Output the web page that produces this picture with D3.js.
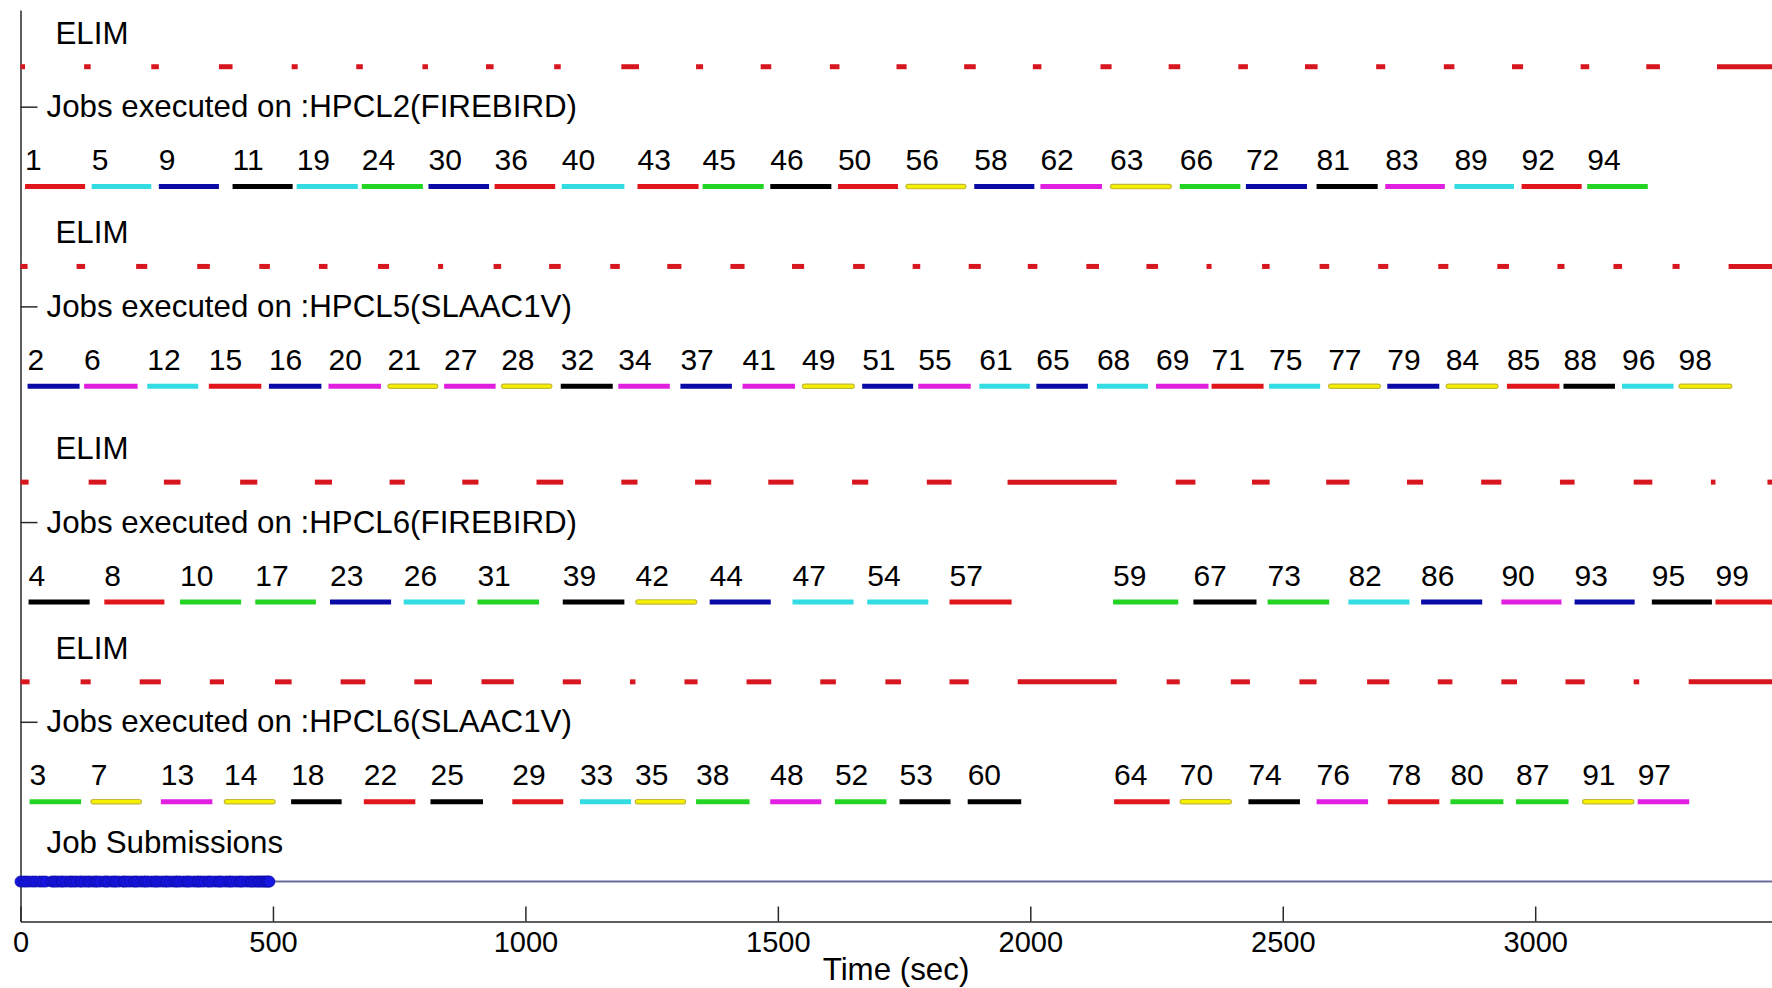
<!DOCTYPE html>
<html>
<head>
<meta charset="utf-8">
<script src="https://cdn.jsdelivr.net/npm/d3@7"></script>
<style>
    body { margin: 0; background: #fff; }
    #chart-area { width: 1772px; height: 988px; }
    text { font-family: "Liberation Sans", Arial, sans-serif; fill: #000; }
    .axis path, .axis line { stroke: #2a2a2a; stroke-width: 1.5px; }
    .x-axis text { font-size: 29px; }
    .y-axis text { font-size: 31.3px; }
    .caption { font-size: 31.3px; }
    .job-label { font-size: 30px; }
</style>
</head>
<body>
<div id="chart-area"></div>
<script>

// machines, top to bottom
var machineNames = ["HPCL2(FIREBIRD)", "HPCL5(SLAAC1V)", "HPCL6(FIREBIRD)", "HPCL6(SLAAC1V)"];

// y value of each track (as plotted in the original figure)
var elimLevels = [10.2, 7.7, 5.0, 2.5];
var jobLevels = [8.7, 6.2, 3.5, 1.0];
var submissionLevel = 0;

var xTicks = [0, 500, 1000, 1500, 2000, 2500, 3000];

// jobs: id, colour code (matlab style), start, end (sec)
var jobsHPCL2 = [
    [1, "r", 9, 128], [5, "c", 141, 259], [9, "b", 274, 393], [11, "k", 420, 539],
    [19, "c", 547, 668], [24, "g", 676, 797], [30, "b", 808, 928], [36, "r", 939, 1059],
    [40, "c", 1072, 1196], [43, "r", 1222, 1343], [45, "g", 1351, 1472], [46, "k", 1485, 1606],
    [50, "r", 1619, 1738], [56, "y", 1753, 1873], [58, "b", 1889, 2008], [62, "m", 2020, 2142],
    [63, "y", 2158, 2280], [66, "g", 2296, 2416], [72, "b", 2427, 2548], [81, "k", 2567, 2688],
    [83, "m", 2703, 2821], [89, "c", 2840, 2958], [92, "r", 2973, 3092], [94, "g", 3103, 3223]
];
var jobsHPCL5 = [
    [2, "b", 14, 117], [6, "m", 126, 232], [12, "c", 251, 352], [15, "r", 373, 477],
    [16, "b", 492, 596], [20, "m", 610, 714], [21, "y", 727, 827], [27, "m", 839, 941],
    [28, "y", 952, 1053], [32, "k", 1070, 1173], [34, "m", 1184, 1286], [37, "b", 1307, 1409],
    [41, "m", 1430, 1534], [49, "y", 1548, 1652], [51, "b", 1667, 1768], [55, "m", 1778, 1882],
    [61, "c", 1899, 1999], [65, "b", 2012, 2114], [68, "c", 2132, 2233], [69, "m", 2249, 2353],
    [71, "r", 2359, 2462], [75, "c", 2473, 2574], [77, "y", 2590, 2694], [79, "b", 2707, 2810],
    [84, "y", 2823, 2927], [85, "r", 2944, 3048], [88, "k", 3056, 3158], [96, "c", 3172, 3274],
    [98, "y", 3284, 3390]
];
var jobsHPCL6F = [
    [4, "k", 16, 137], [8, "r", 166, 285], [10, "g", 316, 437], [17, "g", 465, 585],
    [23, "b", 613, 734], [26, "c", 759, 880], [31, "g", 905, 1027], [39, "k", 1074, 1196],
    [42, "y", 1218, 1340], [44, "b", 1365, 1486], [47, "c", 1529, 1650], [54, "c", 1677, 1798],
    [57, "r", 1840, 1963], [59, "g", 2164, 2293], [67, "k", 2323, 2448], [73, "g", 2470, 2592],
    [82, "c", 2630, 2751], [86, "b", 2774, 2895], [90, "m", 2933, 3052], [93, "b", 3078, 3197],
    [95, "k", 3231, 3350], [99, "r", 3357, 3500]
];
var jobsHPCL6S = [
    [3, "g", 18, 120], [7, "y", 139, 240], [13, "m", 278, 380], [14, "y", 403, 505],
    [18, "k", 536, 636], [22, "r", 680, 782], [25, "k", 812, 916], [29, "r", 974, 1075],
    [33, "c", 1108, 1209], [35, "y", 1217, 1318], [38, "g", 1338, 1444], [48, "m", 1485, 1586],
    [52, "g", 1613, 1715], [53, "k", 1741, 1842], [60, "k", 1876, 1982], [64, "r", 2166, 2276],
    [70, "y", 2296, 2399], [74, "k", 2432, 2534], [76, "m", 2567, 2669], [78, "r", 2708, 2810],
    [80, "g", 2832, 2937], [87, "g", 2962, 3066], [91, "y", 3093, 3196], [97, "m", 3203, 3305]
];

// ELIM (reconfiguration) intervals per machine, sec
var elimHPCL2 = [[0, 9], [126, 139], [259, 274], [393, 420], [537, 549], [665, 678], [796, 807], [922, 937],
    [1057, 1070], [1190, 1225], [1338, 1352], [1466, 1487], [1603, 1622], [1735, 1755], [1869, 1892],
    [2005, 2022], [2139, 2161], [2274, 2297], [2412, 2431], [2544, 2569], [2685, 2703], [2819, 2840],
    [2954, 2976], [3090, 3107], [3220, 3247], [3360, 3500]];
var elimHPCL5 = [[0, 14], [111, 128], [229, 251], [350, 375], [473, 494], [591, 608], [708, 730], [827, 837],
    [937, 952], [1047, 1070], [1168, 1187], [1281, 1309], [1406, 1434], [1528, 1552], [1649, 1672],
    [1767, 1782], [1878, 1902], [1995, 2014], [2111, 2136], [2230, 2253], [2349, 2359], [2459, 2474],
    [2573, 2592], [2689, 2709], [2808, 2828], [2925, 2948], [3044, 3058], [3155, 3172], [3272, 3286],
    [3383, 3500]];
var elimHPCL6F = [[0, 16], [135, 170], [284, 317], [435, 469], [583, 617], [731, 761], [875, 907],
    [1022, 1075], [1190, 1222], [1336, 1368], [1481, 1531], [1647, 1679], [1795, 1844], [1955, 2171],
    [2288, 2327], [2439, 2474], [2586, 2632], [2746, 2778], [2893, 2933], [3049, 3078], [3195, 3232],
    [3348, 3357], [3460, 3500]];
var elimHPCL6S = [[0, 18], [119, 139], [236, 278], [375, 403], [504, 537], [634, 683], [780, 815],
    [913, 977], [1074, 1110], [1207, 1218], [1315, 1341], [1438, 1487], [1584, 1615], [1713, 1744],
    [1840, 1878], [1975, 2171], [2270, 2296], [2397, 2435], [2533, 2567], [2667, 2711], [2807, 2836],
    [2933, 2964], [3060, 3098], [3195, 3206], [3304, 3500]];

// job submission times (sec), estimated from the dot cluster
var submitTimes = [0, 6, 11, 17, 24, 30, 38, 44, 50, 62, 66, 70, 75, 81, 84, 90, 97, 101, 106, 111,
    118, 121, 127, 133, 137, 144, 149, 152, 158, 166, 170, 174, 181, 186, 189, 195, 203, 206, 211, 217,
    224, 228, 232, 239, 245, 248, 253, 260, 266, 269, 274, 281, 287, 290, 296, 303, 308, 311, 316, 323,
    329, 332, 337, 344, 350, 353, 358, 364, 371, 374, 379, 386, 392, 395, 400, 407, 413, 416, 421, 428,
    434, 437, 442, 449, 455, 458, 462, 467, 471, 474, 478, 482, 485, 488, 491, 493];

var jobColor = d3.scaleOrdinal()
    .domain(["r", "c", "b", "k", "g", "m", "y"])
    .range(["#e0161c", "#33dbe2", "#0a0aa6", "#000000", "#24d424", "#e01fe0", "#f4f000"]);


TimelineChart = function(_parentElement) {
    this.parentElement = _parentElement;
    this.machines = machineNames.map(function(name, i) {
        return {
            name: name,
            jobs: [jobsHPCL2, jobsHPCL5, jobsHPCL6F, jobsHPCL6S][i],
            elim: [elimHPCL2, elimHPCL5, elimHPCL6F, elimHPCL6S][i],
            elimLevel: elimLevels[i],
            jobLevel: jobLevels[i]
        };
    });
    this.initVis();
};

TimelineChart.prototype.initVis = function() {
    var vis = this;

    vis.margin = { top: 10, right: 0, bottom: 66.5, left: 20.5 };
    vis.width = 1771.5 - vis.margin.left;
    vis.height = 988 - vis.margin.top - vis.margin.bottom;

    vis.svg = d3.select('#' + vis.parentElement)
        .append('svg')
        .attr('width', 1772)
        .attr('height', 988)
        .append('g')
        .attr('transform', "translate(" + vis.margin.left + "," + vis.margin.top + ")");

    vis.xScale = d3.scaleLinear()
        .domain([0, 3468])
        .range([0, vis.width]);

    vis.yScale = d3.scaleLinear()
        .domain([-0.5, 10.91])
        .range([vis.height, 0]);

    vis.xAxis = d3.axisBottom(vis.xScale)
        .tickValues(xTicks)
        .tickFormat(d3.format("d"))
        .tickSizeInner(-15)
        .tickSizeOuter(0)
        .tickPadding(10);

    // the "Jobs executed on" captions sit on the y ticks
    vis.yAxis = d3.axisRight(vis.yScale)
        .tickValues(jobLevels.map(function(d) { return d + 1; }))
        .tickSizeInner(17)
        .tickSizeOuter(0)
        .tickPadding(9)
        .tickFormat(function(d, i) { return "Jobs executed on :" + machineNames[i]; });

    vis.svg.append("g")
        .attr("class", "x-axis axis")
        .attr("transform", "translate(0," + vis.height + ")")
        .call(vis.xAxis);

    vis.svg.append("g")
        .attr("class", "y-axis axis")
        .call(vis.yAxis);

    vis.svg.selectAll(".axis text").attr("font-family", null).attr("font-size", null);

    vis.svg.append('text')
        .attr('class', 'caption')
        .attr('x', 875.5)
        .attr('y', vis.height + 58)
        .attr('text-anchor', 'middle')
        .text("Time (sec)");

    vis.updateVis();
};

TimelineChart.prototype.updateVis = function() {
    var vis = this;

    var rows = vis.svg.selectAll('.machine')
        .data(vis.machines)
        .enter()
        .append('g')
        .attr('class', 'machine');

    rows.append('text')
        .attr('class', 'caption')
        .attr('x', 35)
        .attr('y', function(d) { return vis.yScale(d.elimLevel + 0.43); })
        .attr('dy', '0.36em')
        .text("ELIM");

    rows.selectAll('.elim')
        .data(function(d) {
            return d.elim.map(function(e) { return { s: e[0], e: e[1], level: d.elimLevel }; });
        })
        .enter()
        .append('line')
        .attr('class', 'elim')
        .attr('x1', function(d) { return vis.xScale(d.s); })
        .attr('x2', function(d) { return vis.xScale(d.e); })
        .attr('y1', function(d) { return vis.yScale(d.level); })
        .attr('y2', function(d) { return vis.yScale(d.level); })
        .attr('stroke', '#d8161f')
        .attr('stroke-width', 5);

    var jobs = rows.selectAll('.job')
        .data(function(d) {
            return d.jobs.map(function(j) {
                return { id: j[0], c: j[1], s: j[2], e: j[3], level: d.jobLevel };
            });
        })
        .enter()
        .append('g')
        .attr('class', 'job');

    var plain = jobs.filter(function(d) { return d.c !== "y"; });
    var yellow = jobs.filter(function(d) { return d.c === "y"; });

    plain.append('line')
        .attr('x1', function(d) { return vis.xScale(d.s); })
        .attr('x2', function(d) { return vis.xScale(d.e); })
        .attr('y1', function(d) { return vis.yScale(d.level); })
        .attr('y2', function(d) { return vis.yScale(d.level); })
        .attr('stroke', function(d) { return jobColor(d.c); })
        .attr('stroke-width', 5);

    // yellow reads with a darker rim and rounded ends
    yellow.append('line')
        .attr('x1', function(d) { return vis.xScale(d.s) + 2.5; })
        .attr('x2', function(d) { return vis.xScale(d.e) - 2.5; })
        .attr('y1', function(d) { return vis.yScale(d.level); })
        .attr('y2', function(d) { return vis.yScale(d.level); })
        .attr('stroke', '#c4b838')
        .attr('stroke-linecap', 'round')
        .attr('stroke-width', 5.5);

    yellow.append('line')
        .attr('x1', function(d) { return vis.xScale(d.s) + 2.5; })
        .attr('x2', function(d) { return vis.xScale(d.e) - 2.5; })
        .attr('y1', function(d) { return vis.yScale(d.level); })
        .attr('y2', function(d) { return vis.yScale(d.level); })
        .attr('stroke', jobColor("y"))
        .attr('stroke-linecap', 'round')
        .attr('stroke-width', 3.2);

    jobs.append('text')
        .attr('class', 'job-label')
        .attr('x', function(d) { return vis.xScale(d.s); })
        .attr('y', function(d) { return vis.yScale(d.level + 0.34); })
        .attr('dy', '0.36em')
        .text(function(d) { return d.id; });

    // job submissions
    vis.svg.append('text')
        .attr('class', 'caption')
        .attr('x', 26)
        .attr('y', vis.yScale(submissionLevel + 0.5))
        .attr('dy', '0.36em')
        .text("Job Submissions");

    vis.svg.append('line')
        .attr('x1', vis.xScale(0))
        .attr('x2', vis.width + 1)
        .attr('y1', vis.yScale(submissionLevel))
        .attr('y2', vis.yScale(submissionLevel))
        .attr('stroke', '#6a6a9c')
        .attr('stroke-width', 2);

    vis.svg.selectAll('.submit')
        .data(submitTimes)
        .enter()
        .append('circle')
        .attr('class', 'submit')
        .attr('cx', function(d) { return vis.xScale(d); })
        .attr('cy', vis.yScale(submissionLevel))
        .attr('r', 5.5)
        .attr('fill', '#1616e0')
        .attr('stroke', '#0c0ca8')
        .attr('stroke-width', 0.8);
};

var chart = new TimelineChart("chart-area");
</script>
</body>
</html>
